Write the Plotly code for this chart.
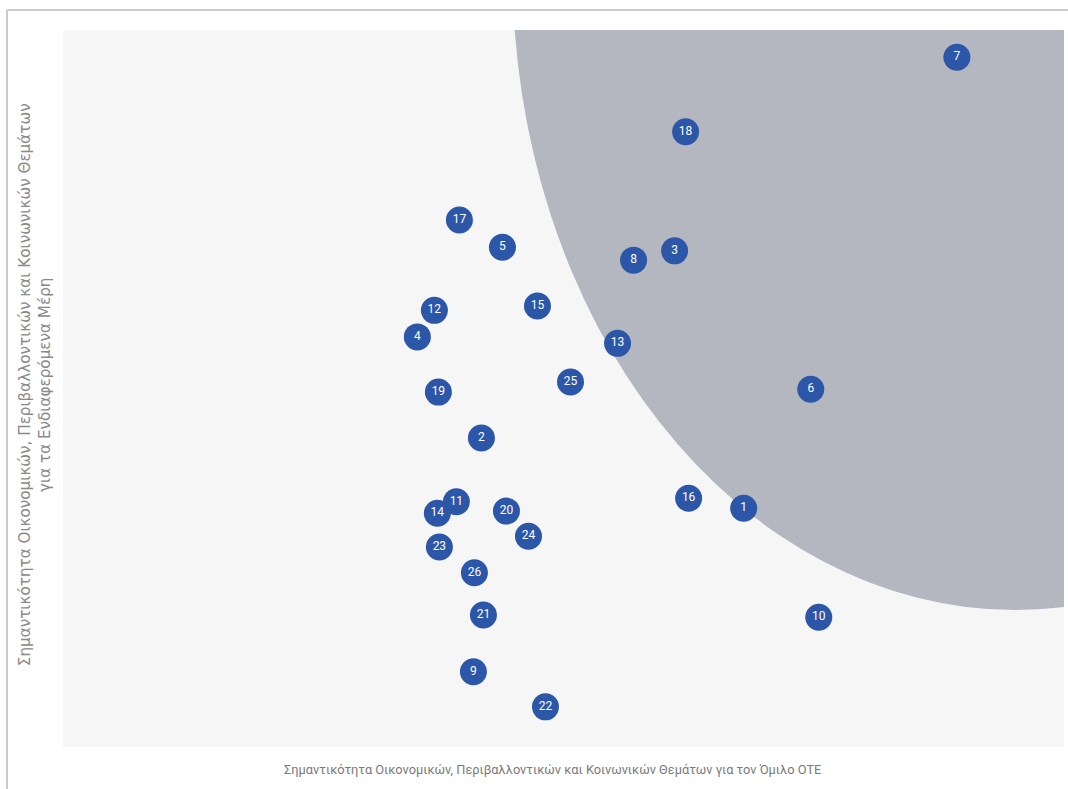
import plotly.graph_objects as go

labels = ["1", "2", "3", "4", "5", "6", "7", "8", "9", "10", "11", "12", "13",
          "14", "15", "16", "17", "18", "19", "20", "21", "22", "23", "24", "25", "26"]
x_vals = [6.80, 4.18, 6.11, 3.54, 4.39, 7.47, 8.93, 5.70, 4.10, 7.55, 3.93, 3.71, 5.54,
          3.74, 4.74, 6.25, 3.96, 6.22, 3.75, 4.43, 4.20, 4.82, 3.76, 4.65, 5.07, 4.11]
y_vals = [3.33, 4.31, 6.92, 5.72, 6.97, 4.99, 9.62, 6.79, 1.05, 1.81, 3.42, 6.09, 5.63,
          3.26, 6.15, 3.47, 7.35, 8.58, 4.95, 3.29, 1.84, 0.56, 2.79, 2.94, 5.09, 2.43]

# high-materiality zone (ellipse), in data units
zone_x = [4.49, 14.54]
zone_y = [1.91, 19.76]

x_title = "Σημαντικότητα Οικονομικών, Περιβαλλοντικών και Κοινωνικών Θεμάτων για τον Όμιλο ΟΤΕ"
y_title = "Σημαντικότητα Οικονομικών, Περιβαλλοντικών και Κοινωνικών Θεμάτων<br>για τα Ενδιαφερόμενα Μέρη"

fig = go.Figure()
fig.add_trace(go.Scatter(
    x=x_vals, y=y_vals, mode="markers+text", text=labels,
    textposition="middle center",
    textfont=dict(family="Roboto", size=12, color="white"),
    marker=dict(size=27, color="#2c56a8", line=dict(width=0)),
    hoverinfo="text", showlegend=False,
))

fig.add_shape(type="circle", xref="x", yref="y",
              x0=zone_x[0], x1=zone_x[1], y0=zone_y[0], y1=zone_y[1],
              fillcolor="#b4b7bf", line=dict(width=0), layer="below")

# outer frame lines
fig.add_shape(type="line", xref="paper", yref="paper", x0=-0.0559, x1=1.004, y0=1.0279, y1=1.0279,
              line=dict(color="#c9c9d1", width=2))
fig.add_shape(type="line", xref="paper", yref="paper", x0=-0.0559, x1=-0.0559, y0=1.0279, y1=-0.06,
              line=dict(color="#c9c9d1", width=2))

fig.add_annotation(text=x_title, xref="paper", yref="paper", x=0.4895, y=-0.032,
                   xanchor="center", yanchor="middle", showarrow=False,
                   font=dict(family="Roboto", size=12.8, color="#7a7a7a"))
fig.add_annotation(text=y_title, xref="paper", yref="paper", x=-0.028, y=0.506,
                   xanchor="center", yanchor="middle", showarrow=False, textangle=-90,
                   font=dict(family="DejaVu Sans", size=15.2, color="#8a8a8a"))

fig.update_xaxes(range=[0, 10], showgrid=False, zeroline=False, showticklabels=False, ticks="")
fig.update_yaxes(range=[0, 10], showgrid=False, zeroline=False, showticklabels=False, ticks="")

fig.update_layout(
    width=1068, height=789,
    margin=dict(l=63, r=4, t=30, b=42),
    paper_bgcolor="white", plot_bgcolor="#f6f6f6",
)

fig.write_html("out.html")
